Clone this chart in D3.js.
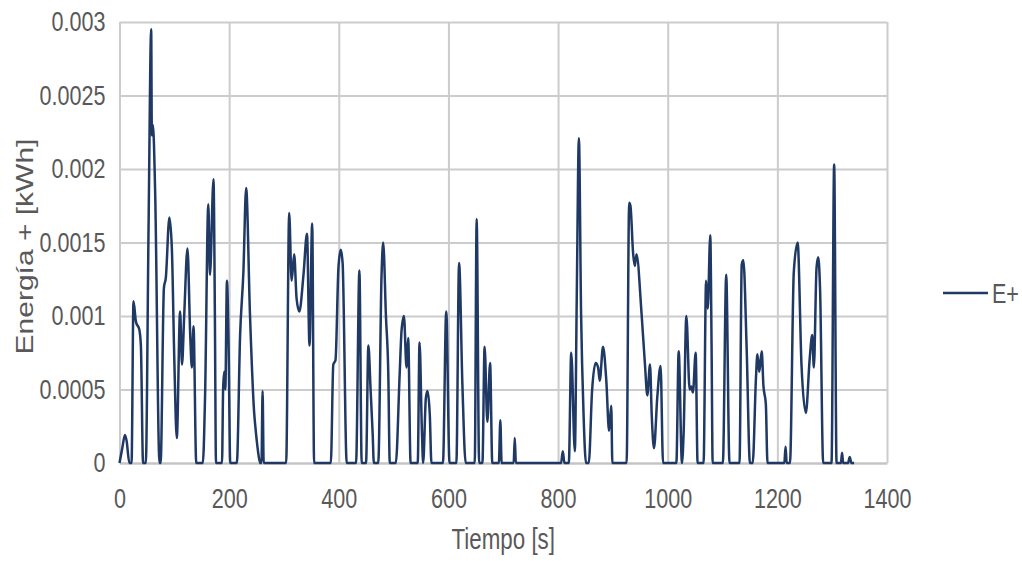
<!DOCTYPE html>
<html>
<head>
<meta charset="utf-8">
<script src="https://cdn.jsdelivr.net/npm/d3@7"></script>
<style>
  html, body { margin: 0; padding: 0; background: #fff; }
  svg { display: block; font-family: "Liberation Sans", Arial, sans-serif; }
</style>
</head>
<body>
<div id="chart"></div>
<script>
// time [s]
var tiempo = [
	0, 5, 10, 13, 18, 22, 25.5, 30, 36, 39, 43, 48, 53, 57.8, 59, 61, 65, 73,
	75, 81, 84.5, 91, 95.5, 100, 104.5, 110.5, 114, 118, 124, 129, 132, 135, 140,
	152, 156, 162, 165, 171.5, 174, 176, 187, 189, 191, 193, 196, 199, 202,
	214, 220, 226, 231, 238, 245.5, 248, 252, 256.5, 259, 261, 263,
	304, 309.5, 314, 318.6, 323, 328, 335.6, 342, 346.6, 351.5, 355,
	385.5, 390, 394, 399.4, 403.6, 407, 414.5, 431.5, 437.6, 441.8,
	449.7, 454, 458, 461.8, 464, 472, 478, 481, 486, 490.3, 493,
	504, 511, 514.5, 518.8, 523.6, 526.6, 531, 544, 547.3, 551.6, 553.9, 558.8, 561.8, 566, 569,
	590, 596, 602, 614.5, 619.4, 625.5, 631.5, 648, 651.5, 656,
	662, 666, 671, 676, 680, 692, 694.7, 697, 719, 721, 723,
	805.5, 808.6, 811.6, 819.6, 824, 830.6, 834, 838, 842, 846.5, 851,
	856, 862, 868.5, 873, 876, 882, 888, 893, 897, 899,
	925, 929.7, 932, 937, 940, 943, 952.4, 958.5, 962.8, 967.7, 970.8, 975, 981, 987, 991.5,
	1015.8, 1020, 1026, 1029, 1034, 1040, 1043, 1046, 1051, 1054.5,
	1065.4, 1070, 1073, 1077.6, 1080, 1082, 1100.6, 1106.7, 1112.7,
	1131, 1135, 1138, 1144, 1150, 1155, 1161, 1163.6, 1167, 1171.5, 1174.5, 1179, 1182,
	1212.7, 1215, 1217, 1223, 1230, 1237, 1244, 1252, 1259, 1263.6, 1266.6, 1271.5, 1274.5, 1278, 1283.6,
	1298.8, 1303.6, 1308, 1316, 1318, 1320, 1329, 1332, 1335, 1340
]

// E+ [kWh]
var energia = [
	0, 0.0001, 0.00019, 0.00015, 0, 0, 0.0011, 0.00096, 0.00091, 0.0008, 0, 0, 0.0016, 0.00295, 0.00223, 0.0023, 0.00185, 0,
	0, 0.00119, 0.00126, 0.00167, 0.00146, 0.0007, 0.00017, 0.00103, 0.00067, 0.001, 0.00146, 0.00087, 0.00065, 0.00093, 0,
	0, 0.00044, 0.00176, 0.00128, 0.00193, 0.001, 0, 0, 0.0005, 0.00062, 0.0005, 0.00124, 0.0008, 0,
	0, 0.00087, 0.0013, 0.00187, 0.00101, 0.00035, 0.00024, 0.0001, 0, 0, 0.00049, 0,
	0, 0.0017, 0.00124, 0.00142, 0.00112, 0.00103, 0.00128, 0.00156, 0.0008, 0.00163, 0,
	0, 0.00067, 0.0007, 0.00133, 0.00145, 0.00136, 0, 0, 0.00131, 0,
	0, 0.0008, 0.0005, 0.0002, 0, 0, 0.00128, 0.0015, 0.001, 0.00061, 0,
	0, 0.0006, 0.0009, 0.001, 0.00065, 0.00085, 0, 0, 0.00082, 0.00022, 0, 0.00044, 0.00049, 0.00033, 0,
	0, 0.00103, 0, 0, 0.00136, 0.00053, 0, 0, 0.00166, 0,
	0, 0.00079, 0.00028, 0.00068, 0, 0, 0.00029, 0, 0, 0.00017, 0,
	0, 0.00008, 0, 0, 0.00075, 0.00008, 0.0011, 0.00221, 0.00101, 0.00033, 0,
	0, 0.00049, 0.00068, 0.00065, 0.00056, 0.00079, 0.00056, 0.00022, 0.00039, 0,
	0, 0.00177, 0.00175, 0.00142, 0.00134, 0.00142, 0.00101, 0.00067, 0.00046, 0.00067, 0.00033, 0.0001, 0.00045, 0.00066, 0,
	0, 0.00076, 0, 0.0002, 0.001, 0.0005, 0.00052, 0.00048, 0.00075, 0,
	0, 0.00124, 0.00105, 0.00155, 0.0008, 0, 0, 0.00128, 0,
	0, 0.00135, 0.00138, 0.00078, 0, 0, 0.00058, 0.00074, 0.00062, 0.00076, 0.00053, 0.0004, 0,
	0, 0.00011, 0, 0, 0.0013, 0.0015, 0.00067, 0.00034, 0.00071, 0.00087, 0.00065, 0.00133, 0.0014, 0.00117, 0,
	0, 0.00203, 0, 0, 0.00007, 0, 0, 0.00004, 0, 0
]

var xTicks = [0, 200, 400, 600, 800, 1000, 1200, 1400]
var yTicks = [0, 0.0005, 0.001, 0.0015, 0.002, 0.0025, 0.003]
var serieName = "E+"

var dataset = tiempo.map(function(t, i){ return { t: t, v: energia[i] } })

var width = 1022, height = 561
var padding = {left: 119.5, right: 135, top: 22, bottom: 98}
var w = width - padding.left - padding.right
var h = height - padding.top - padding.bottom
var sx = 0.77   // glyphs in the reference are horizontally squeezed
var textColor = "#595959"

var svg = d3.select("#chart")
	.append("svg")
	.attr("width", width)
	.attr("height", height)

var xScale = d3.scaleLinear().domain([0, 1400]).range([0, w])
var yScale = d3.scaleLinear().domain([0, 0.003]).range([h, 0])

var g = svg.append("g")
	.attr("transform", "translate(" + padding.left + "," + padding.top + ")")

// grid
g.append("g")
	.attr("class", "grid-x")
	.attr("transform", "translate(0," + h + ")")
	.call(d3.axisBottom(xScale).tickValues(xTicks).tickSize(-h).tickFormat(""))
g.append("g")
	.attr("class", "grid-y")
	.call(d3.axisLeft(yScale).tickValues(yTicks).tickSize(-w).tickFormat(""))
g.selectAll(".grid-x .domain, .grid-y .domain").remove()
g.selectAll(".grid-x line, .grid-y line")
	.attr("stroke", "#cccccc")
	.attr("stroke-width", 2)

// axes (labels only)
var xAxis = g.append("g")
	.attr("transform", "translate(0," + h + ")")
	.call(d3.axisBottom(xScale).tickValues(xTicks).tickSize(0).tickPadding(25).tickFormat(d3.format("d")))
var yAxis = g.append("g")
	.call(d3.axisLeft(yScale).tickValues(yTicks).tickSize(0).tickPadding(14).tickFormat(function(d){ return String(+d.toFixed(4)) }))

xAxis.select(".domain").attr("stroke", "#c4c4c4").attr("stroke-width", 2)
yAxis.select(".domain").remove()

svg.selectAll(".tick text")
	.attr("font-size", 28)
	.attr("font-family", "Liberation Sans, Arial, sans-serif")
	.attr("fill", textColor)
	.attr("transform", "scale(" + sx + ",1)")
yAxis.selectAll(".tick text").attr("x", -14 / sx)

// line
var line = d3.line()
	.x(function(d){ return xScale(d.t) })
	.y(function(d){ return yScale(d.v) })
	.curve(d3.curveMonotoneX)

g.append("path")
	.datum(dataset)
	.attr("fill", "none")
	.attr("stroke", "#1f3864")
	.attr("stroke-width", 2.5)
	.attr("stroke-linejoin", "round")
	.attr("d", line)

// axis titles
svg.append("text")
	.attr("transform", "translate(" + (padding.left + w / 2) + ",549) scale(" + sx + ",1)")
	.attr("text-anchor", "middle")
	.attr("font-size", 29)
	.attr("fill", textColor)
	.text("Tiempo [s]")

svg.append("text")
	.attr("transform", "translate(33," + (padding.top + h / 2 + 4) + ") scale(" + sx + ",1) rotate(-90)")
	.attr("text-anchor", "middle")
	.attr("font-size", 30)
	.attr("fill", textColor)
	.text("Energía + [kWh]")

// legend
var legend = svg.append("g").attr("transform", "translate(943,293)")
legend.append("line")
	.attr("x1", 0).attr("x2", 45)
	.attr("y1", 0).attr("y2", 0)
	.attr("stroke", "#1f3864")
	.attr("stroke-width", 2.5)
legend.append("text")
	.attr("transform", "translate(49,10) scale(" + sx + ",1)")
	.attr("font-size", 28)
	.attr("fill", textColor)
	.text(serieName)
</script>
</body>
</html>
